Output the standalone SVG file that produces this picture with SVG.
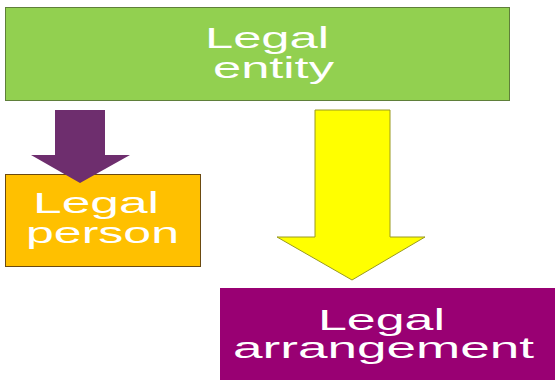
<svg xmlns="http://www.w3.org/2000/svg" width="555" height="380" viewBox="0 0 555 380">
<style>
  .lbl { font-family: "Liberation Sans", Arial, sans-serif; font-size: 30px; fill: #ffffff; }
</style>
<rect x="0" y="0" width="555" height="380" fill="#ffffff"/>
<g id="legal-entity">
  <rect x="5.5" y="7.5" width="504" height="93" fill="#92D050" stroke="#5f7f3a" stroke-width="1"/>
  <text class="lbl" x="205" y="48" textLength="124" lengthAdjust="spacingAndGlyphs">Legal</text>
  <text class="lbl" x="213" y="78" textLength="121" lengthAdjust="spacingAndGlyphs">entity</text>
</g>
<g id="legal-person">
  <rect x="5.5" y="174.5" width="195" height="92" fill="#FFC000" stroke="#6b4a10" stroke-width="1"/>
  <text class="lbl" x="33" y="213" textLength="126" lengthAdjust="spacingAndGlyphs">Legal</text>
  <text class="lbl" x="26" y="243" textLength="153" lengthAdjust="spacingAndGlyphs">person</text>
</g>
<g id="legal-arrangement">
  <rect x="220" y="288" width="335" height="92" fill="#990073"/>
  <text class="lbl" x="318" y="330" textLength="127" lengthAdjust="spacingAndGlyphs">Legal</text>
  <text class="lbl" x="233" y="358" textLength="301" lengthAdjust="spacingAndGlyphs">arrangement</text>
</g>
<g id="connectors">
  <polygon points="55,110 105,110 105,155 130,155 80,183 31,155 55,155" fill="#6E2E6E"/>
  <polygon points="315,110 390,110 390,237 425,237 352,280 277,237 315,237" fill="#FFFF00" stroke="#9a9a20" stroke-width="1"/>
</g>
</svg>
